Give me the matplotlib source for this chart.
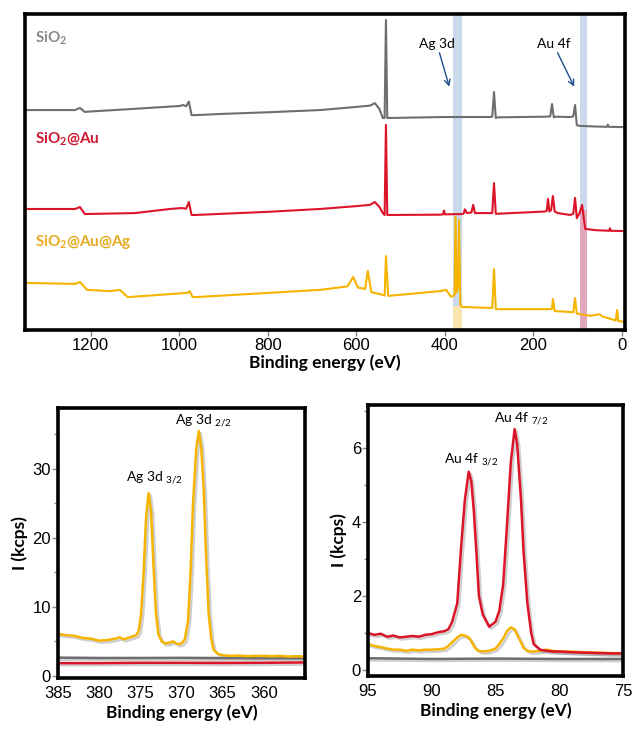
import matplotlib
matplotlib.use("Agg")
import matplotlib.pyplot as plt
import matplotlib.patheffects as pe

# survey spectra (binding energy in eV, intensity in stacked arbitrary units)
gray_e = [1348, 1235, 1224, 1213, 1206, 1100, 998, 991, 984, 978, 972, 964, 900, 800, 682,
          600, 569, 558, 548, 540, 536, 533, 530, 524, 400, 298, 293, 289, 285, 280,
          174, 162, 158, 154, 150, 117, 110, 106, 102, 96, 60, 34, 32, 30, -7]
gray_i = [69.6, 69.6, 70.3, 69.0, 69.1, 70.0, 70.9, 71.2, 70.8, 72.3, 68.0, 68.0, 68.4, 68.9, 69.6,
          70.6, 71.0, 71.8, 70.0, 67.1, 67.1, 98.1, 67.1, 67.1, 67.4, 67.4, 67.5, 75.3, 67.1, 67.3,
          67.5, 67.6, 71.5, 67.3, 67.5, 67.4, 67.6, 71.2, 64.8, 64.6, 64.4, 64.3, 65.0, 64.3, 64.2]

red_e = [1348, 1235, 1224, 1213, 1100, 1021, 994, 984, 978, 972, 964, 800, 682, 600, 569,
         558, 548, 540, 536, 533, 530, 524, 411, 404, 402, 400, 360, 357, 355, 350,
         340, 336, 332, 298, 293, 289, 285, 280, 174, 170, 167, 164, 160, 156, 152,
         145, 117, 110, 106, 102, 96, 90, 86, 83, 60, 29, 27, 25, -7]
red_i = [38.3, 38.3, 38.9, 36.7, 37.0, 38.3, 38.6, 38.4, 40.5, 36.4, 36.4, 37.4, 38.3, 39.2, 39.6,
         40.5, 39.0, 37.0, 36.4, 64.9, 36.4, 36.4, 36.5, 36.6, 37.8, 36.6, 36.7, 37.0, 38.2, 37.0,
         37.2, 39.6, 37.0, 37.0, 37.0, 46.5, 36.8, 36.8, 37.5, 37.7, 41.5, 37.5, 38.0, 42.4, 37.5,
         37.0, 36.4, 36.8, 41.8, 35.4, 37.0, 39.6, 35.0, 32.0, 31.6, 31.4, 32.2, 31.4, 31.3]

orange_e = [1348, 1235, 1224, 1208, 1156, 1134, 1116, 998, 980, 976, 970, 964, 682, 620, 607,
            596, 580, 574, 566, 542, 536, 533, 528, 411, 397, 386, 378, 376, 373, 370,
            368, 365, 361, 298, 293, 289, 285, 280, 163, 158, 156, 152, 117, 110, 106,
            102, 72, 50, 45, 18, 14, 11, 8, 5, -7]
orange_i = [14.9, 14.6, 15.2, 12.7, 12.3, 12.7, 10.4, 11.6, 11.8, 12.3, 10.5, 10.4, 12.7, 13.8, 16.8,
            13.4, 13.0, 18.7, 12.0, 11.2, 10.9, 23.4, 10.8, 12.3, 12.7, 10.5, 11.0, 35.8, 12.0, 14.0,
            34.8, 8.0, 7.3, 7.0, 7.0, 19.3, 6.6, 6.6, 6.6, 6.7, 9.8, 6.0, 5.7, 5.6, 10.1,
            5.2, 4.5, 5.0, 4.3, 3.2, 3.0, 6.3, 2.8, 2.8, 2.5]

# Ag 3d region (kcps)
ag_e = [385, 384, 383, 382, 381, 380, 379, 378, 377.5, 377, 376.5, 376, 375.5, 375.2, 374.9,
        374.6, 374.3, 374.0, 373.7, 373.4, 373.1, 372.8, 372.4, 372, 371.5, 371, 370.5, 370,
        369.6, 369.2, 368.9, 368.6, 368.2, 367.9, 367.6, 367.3, 367.0, 366.7, 366.4, 366.1,
        365.6, 365, 364, 363, 362, 361, 360, 359, 358, 357, 356, 355]
ag_orange = [6.1, 5.9, 5.8, 5.5, 5.4, 5.1, 5.2, 5.4, 5.6, 5.3, 5.5, 5.7, 5.9, 6.5, 9,
             15, 23, 26.5, 24, 16, 9, 6, 5.0, 4.7, 4.8, 5.0, 4.6, 4.7,
             5.3, 8, 15, 25, 33, 35.5, 33, 27, 17, 9, 5.5, 3.8,
             3.2, 3.0, 2.9, 2.95, 2.85, 2.9, 2.9, 2.85, 2.9, 2.8, 2.85, 2.8]
ag_ref_e = [385, 380, 375, 370, 365, 360, 355]
ag_gray = [2.65, 2.6, 2.6, 2.62, 2.58, 2.55, 2.55]
ag_red = [1.85, 1.85, 1.9, 1.9, 1.88, 1.9, 1.95]

# Au 4f region (kcps)
au_e = [95, 94.5, 94, 93.5, 93, 92.5, 92, 91.5, 91, 90.5, 90, 89.5, 89, 88.7, 88.4,
        88.0, 87.7, 87.4, 87.1, 86.9, 86.7, 86.5, 86.3, 86.0, 85.5, 85.0, 84.7, 84.4, 84.1,
        83.8, 83.5, 83.3, 83.0, 82.8, 82.5, 82.2, 82.0, 81.5, 81, 80.5, 80, 79, 78, 77, 76, 75]
au_red = [1.0, 0.95, 0.98, 0.9, 0.93, 0.88, 0.9, 0.92, 0.9, 0.95, 0.97, 1.02, 1.05, 1.1, 1.3,
          1.8, 3.3, 4.6, 5.35, 5.1, 4.3, 3.2, 2.0, 1.5, 1.17, 1.3, 1.6, 2.3, 3.9,
          5.6, 6.5, 6.1, 4.6, 3.2, 1.8, 1.0, 0.7, 0.55, 0.52, 0.5, 0.5, 0.48, 0.47, 0.46, 0.45, 0.45]
au_orange = [0.7, 0.65, 0.62, 0.58, 0.55, 0.55, 0.52, 0.55, 0.53, 0.55, 0.55, 0.56, 0.58, 0.65, 0.75,
             0.88, 0.95, 0.93, 0.88, 0.78, 0.65, 0.56, 0.52, 0.5, 0.52, 0.58, 0.7, 0.85, 1.05,
             1.15, 1.1, 0.95, 0.75, 0.6, 0.52, 0.5, 0.5, 0.52, 0.55, 0.52, 0.5, 0.5, 0.48, 0.47, 0.46, 0.45]
au_ref_e = [95, 90, 85, 80, 75]
au_gray = [0.32, 0.3, 0.31, 0.3, 0.3]

GRAY = "#6e6e6e"
RED = "#dc1428"
ORANGE = "#f5b400"

plt.rcParams['font.family'] = ['Liberation Sans', 'DejaVu Sans']
plt.rcParams['mathtext.fontset'] = 'custom'
plt.rcParams['mathtext.rm'] = 'Lato'
plt.rcParams['mathtext.bf'] = 'Lato:bold'

fig = plt.figure(figsize=(6.35, 7.29), dpi=100)

def frame(ax):
    for s in ax.spines.values():
        s.set_linewidth(2.6)
        s.set_color("black")

# ---- top survey panel ----
ax = fig.add_axes([0.0394, 0.5473, 0.945, 0.4335])
ax.set_xlim(1348, -7)
ax.set_ylim(0, 100)
ax.axvspan(382, 361, ymin=0.075, ymax=1, color="#b9cde6", alpha=0.75, lw=0, zorder=0)
ax.axvspan(382, 361, ymin=0, ymax=0.075, color="#fbe3a6", alpha=0.9, lw=0, zorder=0)
ax.axvspan(94, 80, ymin=0.38, ymax=1, color="#b9cde6", alpha=0.75, lw=0, zorder=0)
ax.axvspan(94, 80, ymin=0, ymax=0.38, color="#d98aa9", alpha=0.75, lw=0, zorder=0)
ax.plot(gray_e, gray_i, color=GRAY, lw=1.5)
ax.plot(red_e, red_i, color=RED, lw=1.5)
ax.plot(orange_e, orange_i, color=ORANGE, lw=1.5)
ax.set_yticks([])
ax.set_xticks([1200, 1000, 800, 600, 400, 200, 0])
ax.tick_params(axis="x", direction="out", length=4, width=1, color="#888888", labelsize=12, pad=2)
ax.set_xlabel("Binding energy (eV)", family="Lato", weight="bold", fontsize=12.5, labelpad=1)
frame(ax)

lab_kw = dict(transform=ax.transAxes, family="Lato", weight="bold", fontsize=11, va="center")
ax.text(0.017, 0.925, r"SiO$_\mathbf{2}$", color="#8a8a8a", **lab_kw)
ax.text(0.017, 0.603, r"SiO$_\mathbf{2}$@Au", color="#d01830", **lab_kw)
ax.text(0.017, 0.277, r"SiO$_\mathbf{2}$@Au@Ag", color="#e8aa20", **lab_kw)

arr = dict(arrowstyle="->", color="#1f4e8c", lw=1.0, shrinkA=0, shrinkB=0)
ax.annotate("Ag 3d", xy=(390, 77), xytext=(418, 90.5), family="Lato", fontsize=10,
            ha="center", va="center", arrowprops=arr)
ax.annotate("Au 4f", xy=(108, 77), xytext=(155, 90.5), family="Lato", fontsize=10,
            ha="center", va="center", arrowprops=arr)

# ---- Ag 3d panel ----
shadow = [pe.SimpleLineShadow(offset=(1.5, -1.5), shadow_color="#777777", alpha=0.35), pe.Normal()]
ax1 = fig.add_axes([0.0913, 0.070, 0.389, 0.370])
ax1.plot(ag_ref_e, ag_gray, color=GRAY, lw=1.8, path_effects=shadow)
ax1.plot(ag_ref_e, ag_red, color=RED, lw=1.8, path_effects=shadow)
ax1.plot(ag_e, ag_orange, color=ORANGE, lw=1.8, path_effects=shadow)
ax1.set_xlim(385, 355)
ax1.set_ylim(-0.3, 38.8)
ax1.set_xticks([385, 380, 375, 370, 365, 360])
ax1.set_yticks([0, 10, 20, 30])
ax1.set_yticks([5, 15, 25, 35], minor=True)
ax1.annotate(r"Ag 3d $_{3/2}$", xy=(374.0, 26.5), xytext=(373.3, 27.6), family="Lato",
             fontsize=10, ha="center", va="bottom")
ax1.annotate(r"Ag 3d $_{2/2}$", xy=(367.9, 35.5), xytext=(367.3, 35.8), family="Lato",
             fontsize=10, ha="center", va="bottom")

# ---- Au 4f panel ----
ax2 = fig.add_axes([0.5795, 0.0727, 0.4016, 0.3717])
ax2.plot(au_ref_e, au_gray, color=GRAY, lw=1.8, path_effects=shadow)
ax2.plot(au_e, au_orange, color=ORANGE, lw=1.8, path_effects=shadow)
ax2.plot(au_e, au_red, color=RED, lw=1.8, path_effects=shadow)
ax2.set_xlim(95, 75)
ax2.set_ylim(-0.16, 7.15)
ax2.set_xticks([95, 90, 85, 80, 75])
ax2.set_yticks([0, 2, 4, 6])
ax2.set_yticks([1, 3, 5, 7], minor=True)
ax2.annotate(r"Au 4f $_{3/2}$", xy=(87.1, 5.35), xytext=(86.9, 5.45), family="Lato",
             fontsize=10, ha="center", va="bottom")
ax2.annotate(r"Au 4f $_{7/2}$", xy=(83.5, 6.5), xytext=(83.0, 6.55), family="Lato",
             fontsize=10, ha="center", va="bottom")

for a in (ax1, ax2):
    frame(a)
    a.tick_params(axis="x", length=0, labelsize=12, pad=6)
    a.tick_params(axis="y", which="both", direction="out", color="#888888", width=1, labelsize=12, pad=1)
    a.tick_params(axis="y", which="major", length=4)
    a.tick_params(axis="y", which="minor", length=3)
    a.set_xlabel("Binding energy (eV)", family="Lato", weight="bold", fontsize=12.5, labelpad=2)
    a.set_ylabel("I (kcps)", family="Lato", weight="bold", fontsize=12.5, labelpad=3)

fig.savefig("out.png", dpi=100)
